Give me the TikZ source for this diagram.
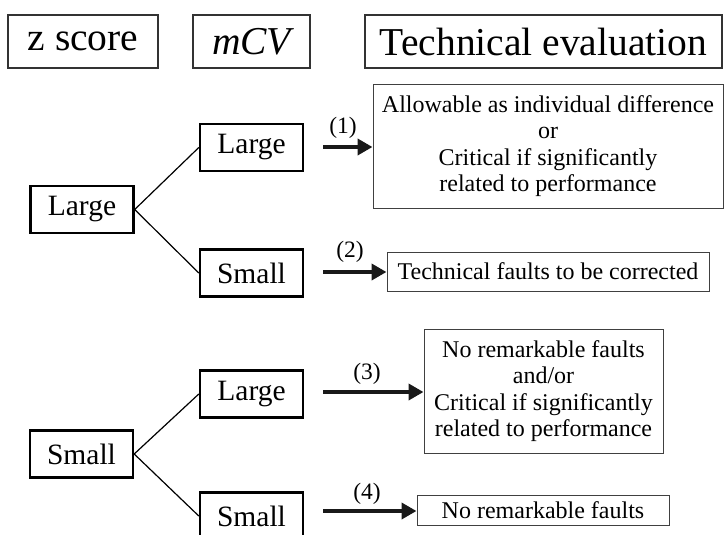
\documentclass[tikz,border=0pt]{standalone}
\usepackage{fontspec}
\setmainfont{Liberation Serif}
\usetikzlibrary{arrows.meta}
\begin{document}
\begin{tikzpicture}[x=1pt,y=-1pt,
  hdr/.style={draw=black!80,line width=1.1pt,inner sep=0pt,minimum height=53pt,font=\fontsize{39.5}{42}\selectfont},
  tree/.style={draw=black,line width=2.4pt,inner sep=0pt,minimum width=103pt,minimum height=47pt,font=\fontsize{29.5}{32}\selectfont},
  res/.style={draw=black!75,line width=1pt,inner sep=0pt,align=center,font=\fontsize{24}{26.5}\selectfont},
  lbl/.style={inner sep=0pt,font=\fontsize{23.5}{25}\selectfont},
  conn/.style={draw=black,line width=1.2pt},
  bigarrow/.style={draw=black!90,line width=4.5pt,-{Triangle[length=15pt,width=16pt]}}
]
\clip (0,0) rectangle (725,535);
\useasboundingbox (0,0) rectangle (725,535);
% header
\node[hdr,minimum width=150pt] (hz) at (83,41.5) {z score};
\node[hdr,minimum width=117pt] (hm) at (251.5,41.5) {\itshape mCV};
\node[hdr,minimum width=357pt] (ht) at (543.5,41.5) {Technical evaluation};
% tree nodes
\node[tree] (zL) at (82,209.5) {Large};
\node[tree] (mL1) at (251.5,147.5) {Large};
\node[tree] (mS1) at (251.5,273) {Small};
\node[tree] (zS) at (81.5,454) {Small};
\node[tree] (mL2) at (251.5,394) {Large};
\node[tree] (mS2) at (251.5,516) {Small};
% result boxes
\node[res,minimum width=350pt,minimum height=124pt] (r1) at (548,146)
  {Allowable as individual difference\\or\\Critical if significantly\\related to performance};
\node[res,minimum width=322pt,minimum height=39pt] (r2) at (548,271.5) {Technical faults to be corrected};
\node[res,minimum width=239pt,minimum height=124pt] (r3) at (543.5,391)
  {No remarkable faults\\and/or\\Critical if significantly\\related to performance};
\node[res,minimum width=252pt,minimum height=30pt] (r4) at (543,510) {No remarkable faults};
% connectors
\draw[conn] (zL.east) -- (mL1.west);
\draw[conn] (zL.east) -- (mS1.west);
\draw[conn] (zS.east) -- (mL2.west);
\draw[conn] (zS.east) -- (mS2.west);
% arrows
\coordinate (a1) at (323,147);
\coordinate (a2) at (323,272);
\coordinate (a3) at (323,392);
\coordinate (a4) at (323,511);
\draw[bigarrow] (a1) -- (a1 -| r1.west);
\draw[bigarrow] (a2) -- (a2 -| r2.west);
\draw[bigarrow] (a3) -- (a3 -| r3.west);
\draw[bigarrow] (a4) -- (a4 -| r4.west);
\node[lbl] (l1) at (343,128) {(1)};
\node[lbl] (l2) at (350,252) {(2)};
\node[lbl] (l3) at (367,374) {(3)};
\node[lbl] (l4) at (367,494) {(4)};
\end{tikzpicture}
\end{document}
